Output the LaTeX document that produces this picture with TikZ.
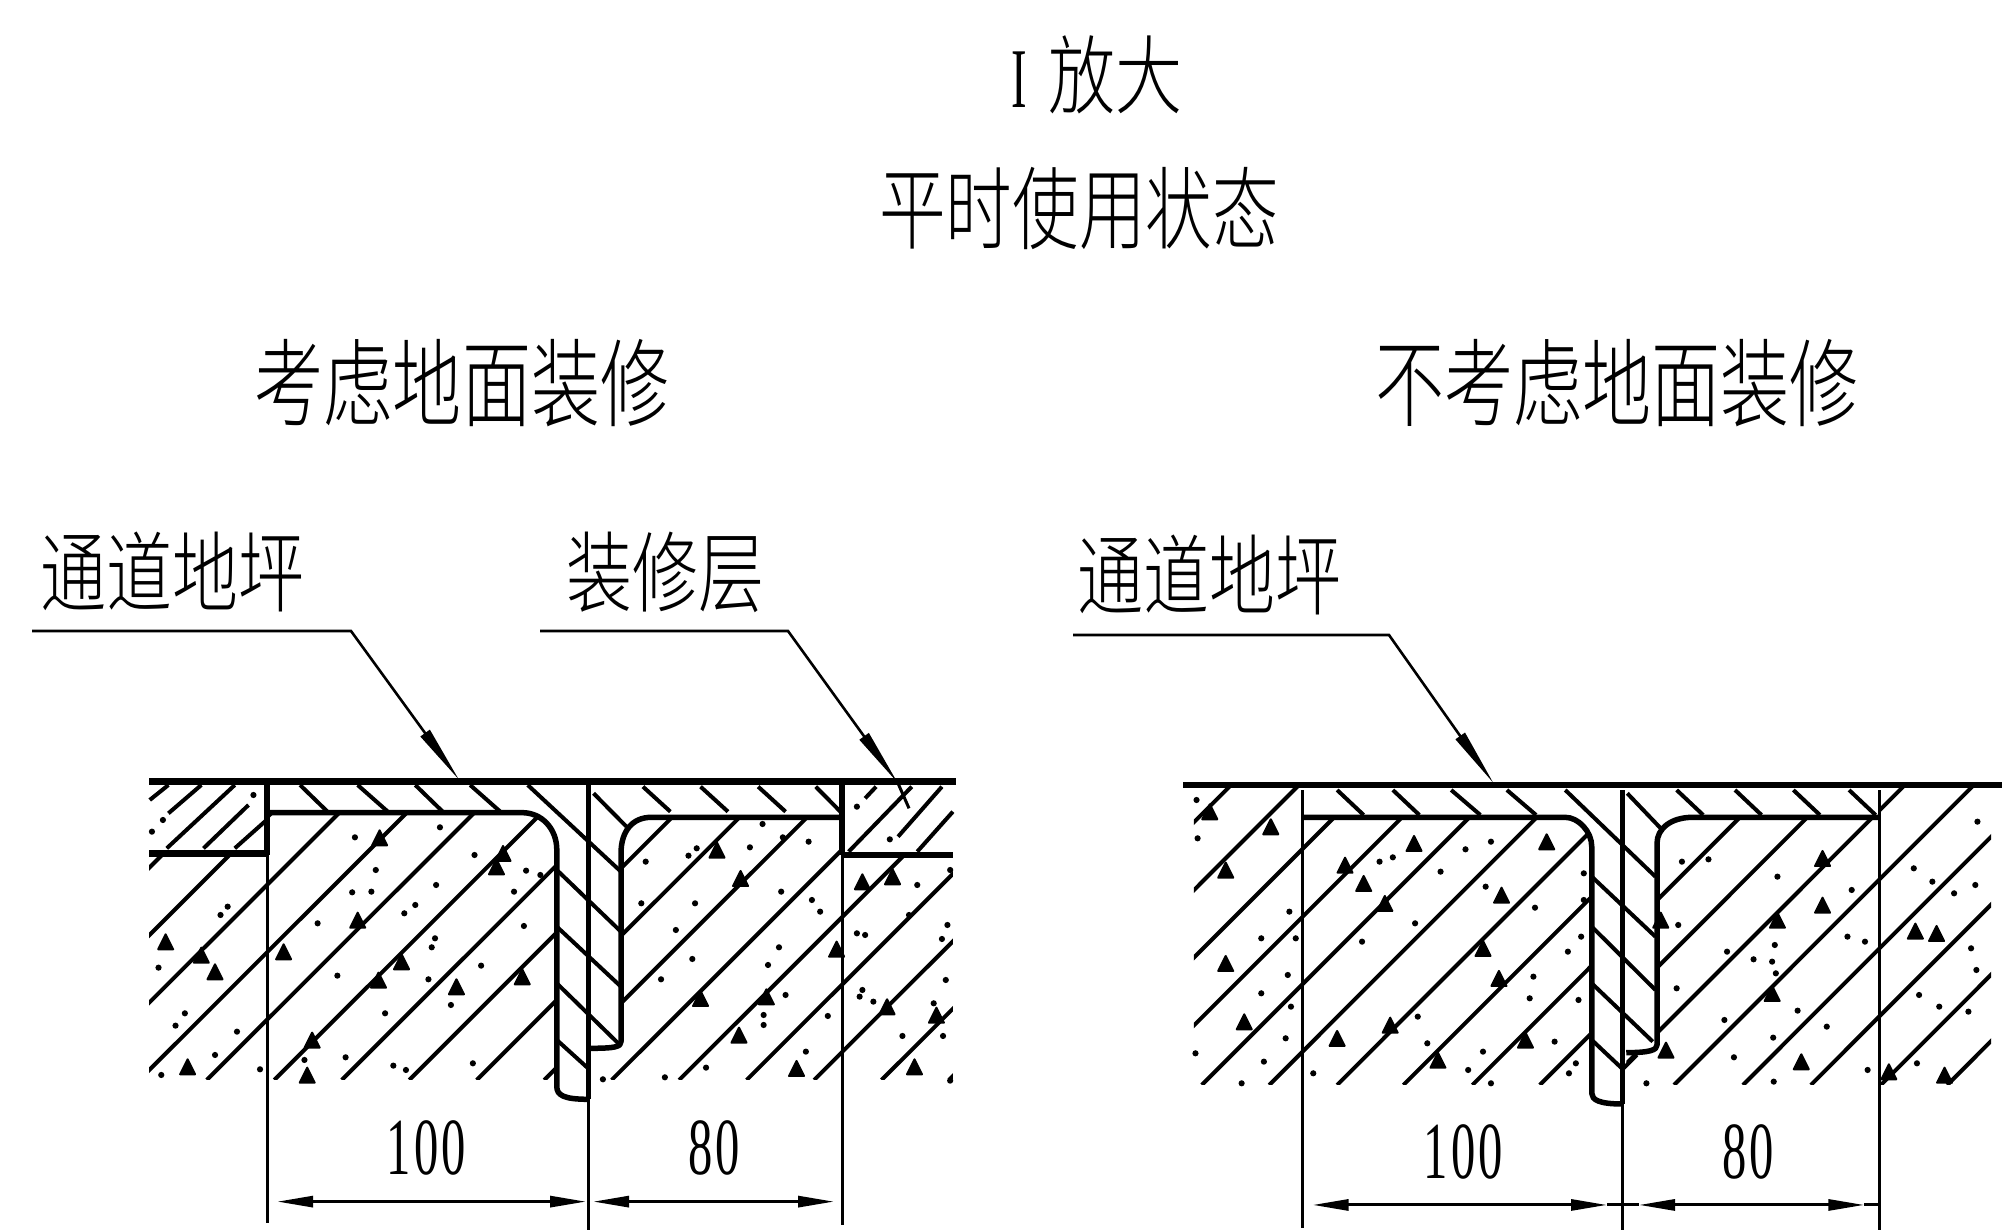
\documentclass[tikz,border=0pt]{standalone}
\usepackage{fontspec}
\usetikzlibrary{arrows.meta}
\newfontfamily\cjk{Noto Sans CJK SC Light}
\newfontfamily\lat[LetterSpace=7]{Liberation Serif}
\newcommand{\hanzi}[3]{\scalebox{#1}[1]{\fontsize{#2pt}{#2pt}\selectfont\cjk #3}}
\newcommand{\dimnum}[1]{\scalebox{.6}[1]{\fontsize{81pt}{81pt}\selectfont\lat #1}}
\tikzset{
  thinl/.style={line width=3pt,black},
  hatchl/.style={line width=4pt,black},
  thickl/.style={line width=6.5pt,black},
  plate/.style={line width=5.5pt,black,line join=round},
  leader/.style={line width=2.6pt,black,-{Triangle[length=58pt,width=11pt]}},
  dimen/.style={line width=3pt,black,{Triangle[length=36pt,width=11pt]}-{Triangle[length=36pt,width=11pt]}},
  txt/.style={inner sep=0pt,black},
  zoomA/.style={shift={(130,740)},x=0.5486pt,y=-0.3333pt},
  zoomB/.style={shift={(1170,740)},x=0.5305pt,y=-0.3333pt},
}
\newcommand{\dotsat}[1]{\foreach \pa/\pb in {#1}{\fill (\pa,\pb) circle (3.1pt);}}
\newcommand{\trisat}[1]{\foreach \pa/\pb in {#1}{\fill[line join=round,draw=black,line width=2pt] (\pa,\pb) ++(0pt,9pt) -- ++(7.5pt,-15pt) -- ++(-15pt,0pt) -- cycle;}}
\begin{document}
\begin{tikzpicture}[x=1pt,y=-1pt]
\useasboundingbox (0,0) rectangle (2002,1230);
\fill[white] (0,0) rectangle (2002,1230);
% titles
\node[txt] (t1) at (1097,75) {{\scalebox{.55}[1]{\fontsize{85pt}{85pt}\selectfont\lat I}}\hspace{22pt}\hanzi{.78}{86}{放大}};
\node[txt] (t2) at (1079,208) {\hanzi{.74}{90}{平时使用状态}};
\node[txt] (t3) at (462,383) {\hanzi{.72}{96}{考虑地面装修}};
\node[txt] (t4) at (1617,383) {\hanzi{.72}{96}{不考虑地面装修}};
\node[txt] (t5) at (172,572) {\hanzi{.75}{88}{通道地坪}};
\node[txt] (t6) at (665,572) {\hanzi{.75}{88}{装修层}};
\node[txt] (t7) at (1209,575) {\hanzi{.75}{88}{通道地坪}};
%
% LEFT DETAIL
\begin{scope}[zoomA]
\coordinate (aL) at (250,125); \coordinate (aLb) at (250,1450);
\coordinate (aC) at (835,125); \coordinate (aCb) at (835,1470);
\coordinate (aR) at (1298,125); \coordinate (aRb) at (1298,1455);
\coordinate (aT1) at (35,125); \coordinate (aT2) at (1505,125);
\coordinate (aD1) at (250,1385); \coordinate (aD2) at (835,1385); \coordinate (aD3) at (1298,1385);
% concrete hatch
\begin{scope}
\clip (35,345) -- (250,345) -- (250,225) -- (715,225) .. controls (755,225) and (778,270) .. (778,330) -- (778,1020) -- (35,1020) -- cycle;
\foreach \bs in {-352,-229,-106,17,140,263,386,509,632,755} \draw[hatchl] (\bs,1020) -- ({\bs+608},20);
\end{scope}
\begin{scope}
\clip (840,1020) -- (840,925) -- (895,925) -- (895,330) .. controls (895,270) and (915,235) .. (950,235) -- (1298,235) -- (1298,350) -- (1500,350) -- (1500,1020) -- cycle;
\foreach \bs in {509,632,755,878,1001,1124,1247,1370,1493,1616,1739} \draw[hatchl] (\bs,1020) -- ({\bs+608},20);
\end{scope}
% finish layer hatch
\draw[hatchl] (36,180)--(70,135) (70,220)--(130,135) (67,325)--(191,135) (134,325)--(216,195) (191,325)--(249,240);
\draw[hatchl] (1310,335)--(1425,140) (1400,290)--(1480,140) (1435,335)--(1500,215) (1340,175)--(1360,140);
% aggregate
\dotsat{410/292,565/262,628/345,448/390,405/457,440/455,558/435,700/455,722/392,748/405,342/550,500/520,520/495,718/558,556/595,550/622,640/677,378/707,544/718,585/795,465/820,195/875,100/820,83/857,155/945,57/1005,52/683,178/500,165/525,40/275,60/240,225/165,393/952,480/977,503/990,318/960,237/988,625/970,862/1018,975/1012,1050/983,1232/935,1272/828,1155/855,1155/825,1195/765,1163/675,1183/622,1025/657,968/718,995/570,1258/515,1243/480,1187/455,1030/490,932/490,940/365,1130/322,1018/347,1033/325,1153/252,1190/292,1237/305,1325/200,1385/298,1325/580,1340/585,1480/597,1490/555,1495/390,1435/435,1420/525,1487/720,1335/750,1355/785,1465/790,1408/888,1482/888,1495/1022,1330/770}
\trisat{455/298,680/345,668/385,415/545,495/670,453/725,595/745,715/715,280/640,130/650,155/700,65/610,105/985,323/1010,332/905,1070/335,1113/420,1110/890,1215/990,1040/780,1160/775,1288/632,1335/430,1390/415,1380/805,1470/830,1430/985}
% plate hatch
\draw[hatchl] (310,135)--(360,215) (415,135)--(470,215) (520,135)--(570,215) (620,135)--(675,215)
  (725,135)--(895,395) (778,390)--(895,575) (778,560)--(895,740) (778,730)--(890,910) (778,900)--(835,985)
  (845,160)--(905,260) (935,140)--(985,215) (1040,140)--(1090,215) (1145,140)--(1195,215) (1250,140)--(1295,215);
% plate outline
\draw[plate] (250,218) -- (715,218) .. controls (750,218) and (778,265) .. (778,330) -- (778,1040) .. controls (778,1065) and (790,1078) .. (835,1078);
\draw[plate] (1298,232) -- (950,232) .. controls (915,232) and (895,275) .. (895,340) -- (895,905) .. controls (895,920) and (885,925) .. (840,925);
% layers
\draw[thickl] (35,340) -- (250,340);
\draw[thickl] (1298,345) -- (1500,345);
\draw[thickl] (aT1) -- (aT2);
% extension lines
\draw[thinl] (aL) -- (aLb);
\draw[thinl] (aC) -- (aCb);
\draw[thinl] (aR) -- (aRb);
\draw[thickl] (aL) -- (250,345);
\draw[thickl] (aR) -- (1298,345);
\draw[line width=5pt] (aC) -- (835,1078);
% dims
\draw[dimen] ([xshift=10pt]aD1) -- ([xshift=-2pt]aD2);
\draw[dimen] ([xshift=5pt]aD2) -- ([xshift=-8pt]aD3);
\node[txt] (a100) at (540,1225) {\dimnum{100}};
\node[txt] (a80) at (1065,1225) {\dimnum{80}};
\coordinate (a1tip) at (600,120);
\coordinate (a2tip) at (1400,130);
\coordinate (a2end) at (1420,205);
\end{scope}
%
% RIGHT DETAIL
\begin{scope}[zoomB]
\coordinate (bL) at (250,150); \coordinate (bLb) at (250,1465);
\coordinate (bC) at (852,150); \coordinate (bCb) at (852,1470);
\coordinate (bR) at (1337,150); \coordinate (bRb) at (1337,1470);
\coordinate (bT1) at (25,135); \coordinate (bT2) at (1568,135);
\coordinate (bD1) at (250,1395); \coordinate (bD2) at (852,1395); \coordinate (bD3) at (1337,1395);
\begin{scope}
\clip (45,140) -- (250,140) -- (250,238) -- (745,238) .. controls (770,238) and (795,280) .. (795,320) -- (795,1035) -- (45,1035) -- cycle;
\foreach \bs in {-450,-322,-195,-67,60,187,315,440,570,697,820} \draw[hatchl] (\bs,1035) -- ({\bs+628},35);
\end{scope}
\begin{scope}
\clip (860,1035) -- (860,940) -- (915,940) -- (915,310) .. controls (915,265) and (945,238) .. (985,238) -- (1337,238) -- (1337,140) -- (1548,140) -- (1548,1035) -- cycle;
\foreach \bs in {315,440,570,697,820,950,1080,1208,1340,1465,1593,1720} \draw[hatchl] (\bs,1035) -- ({\bs+628},35);
\end{scope}
\dotsat{50/180,52/295,225/515,172/595,237/595,222/705,172/760,228/800,218/895,177/965,48/940,135/1030,270/1000,420/352,395/365,510/395,605/305,557/328,595/440,688/503,462/550,362/605,780/400,780/480,775/590,750/635,685/710,678/775,770/780,467/830,485/910,590/935,562/990,605/1030,725/905,765/970,752/1000,965/365,1015/358,1145/410,958/555,1050/635,1100/658,1135/665,1140/615,1142/700,955/745,1045/840,1183/812,1238/860,1137/893,1063/952,1138/1025,898/1030,1285/450,1277/590,1310/605,1402/385,1437/425,1478/460,1518/435,1522/245,1510/625,1520/690,1412/765,1450/800,1505/815,1408/970,1315/990}
\trisat{75/220,190/265,105/395,460/315,365/435,330/380,405/495,625/470,710/310,105/675,590/630,620/720,140/850,315/900,415/860,505/965,670/905,935/935,1230/500,1145/545,1230/360,1135/765,1190/970,1405/578,1445/585,925/545,1355/1000,1460/1010}
\draw[hatchl] (315,150)--(365,225) (420,150)--(470,225) (530,150)--(585,225) (635,150)--(690,225)
  (745,150)--(915,410) (795,410)--(915,590) (795,560)--(915,750) (795,730)--(910,905) (795,900)--(855,990) (855,985)--(880,945)
  (862,160)--(925,265) (955,150)--(1005,225) (1065,150)--(1115,225) (1175,150)--(1225,225) (1280,150)--(1330,225);
\draw[plate] (250,232) -- (745,232) .. controls (770,232) and (795,275) .. (795,320) -- (795,1060) .. controls (795,1080) and (810,1092) .. (852,1092);
\draw[plate] (1337,232) -- (985,232) .. controls (945,232) and (918,265) .. (918,310) -- (918,915) .. controls (918,930) and (905,938) .. (860,938);
\draw[thickl] (bT1) -- (bT2);
\draw[thinl] (bL) -- (bLb);
\draw[thinl] (bC) -- (bCb);
\draw[thinl] (bR) -- (bRb);
\draw[line width=5pt] (bC) -- (852,1092);
\draw[line width=3.5pt] (bL) -- (250,232);
\draw[line width=3.5pt] (bR) -- (1337,232);
\draw[dimen] ([xshift=10pt]bD1) -- ([xshift=-15pt]bD2);
\draw[dimen] ([xshift=17pt]bD2) -- ([xshift=-15pt]bD3);
\draw[thinl] ([xshift=-15pt]bD3) -- (bD3);
\draw[thinl] ([xshift=-15pt]bD2) -- ([xshift=17pt]bD2);
\node[txt] (b100) at (553,1235) {\dimnum{100}};
\node[txt] (b80) at (1090,1235) {\dimnum{80}};
\coordinate (b1tip) at (610,130);
\end{scope}
%
% LEADERS
\coordinate (l1a) at (32,631); \coordinate (l1b) at (351,631);
\coordinate (l2a) at (540,631); \coordinate (l2b) at (788,631);
\coordinate (l3a) at (1073,635); \coordinate (l3b) at (1389,635);
\draw[leader] (l1a) -- (l1b) -- (a1tip);
\draw[leader] (l2a) -- (l2b) -- (a2tip);
\draw[thinl] (a2tip) -- (a2end);
\draw[leader] (l3a) -- (l3b) -- (b1tip);
\end{tikzpicture}
\end{document}
